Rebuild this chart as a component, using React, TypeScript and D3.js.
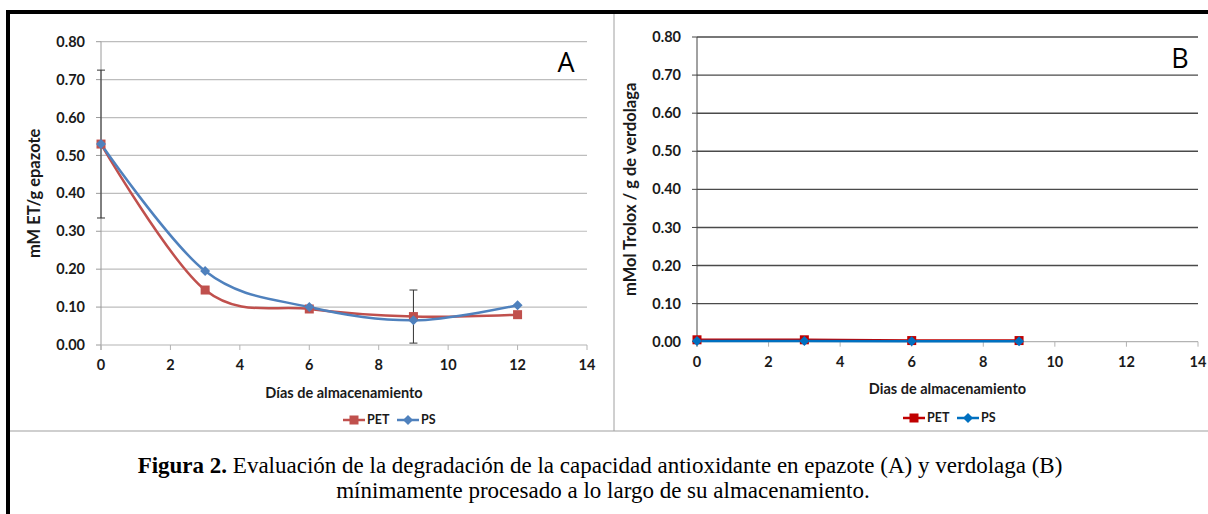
import React from "react";
import * as d3 from "d3";

const xTicks = [0, 2, 4, 6, 8, 10, 12, 14];
const yTicks = [0, 0.1, 0.2, 0.3, 0.4, 0.5, 0.6, 0.7, 0.8];

const daysA = [0, 3, 6, 9, 12];
const petA = [0.53, 0.145, 0.095, 0.075, 0.08];
const psA = [0.53, 0.195, 0.1, 0.065, 0.105];
const errDaysA = [0, 9];
const errLowA = [0.335, 0.005];
const errHighA = [0.725, 0.145];

const daysB = [0, 3, 6, 9];
const petB = [0.005, 0.005, 0.003, 0.003];
const psB = [0.002, 0.002, 0.001, 0.001];

const seriesNames = ["PET", "PS"];
const captionBold = "Figura 2.";
const captionLine1 = " Evaluación de la degradación de la capacidad antioxidante en epazote (A) y verdolaga (B)";
const captionLine2 = "mínimamente procesado a lo largo de su almacenamiento.";

const FONT = "Lato, 'Open Sans', sans-serif";

type PanelProps = {
  x0: number; x1: number; y0: number; y1: number;
  days: number[]; pet: number[]; ps: number[];
  smooth: boolean;
  petColor: string; psColor: string;
  gridColor: string; gridWidth: number; yAxisColor: string;
  yTitle: string; xTitle: string; letter: string;
  letterX: number; letterY: number;
  yTitleX: number; xTitleY: number; legendY: number; legendX: number;
  errDays?: number[]; errLow?: number[]; errHigh?: number[];
};

function Square({ x, y, c }: { x: number; y: number; c: string }) {
  return <rect x={x - 4.5} y={y - 4.5} width={9} height={9} fill={c} />;
}
function Diamond({ x, y, c }: { x: number; y: number; c: string }) {
  return <path d={`M${x},${y - 5}L${x + 5},${y}L${x},${y + 5}L${x - 5},${y}Z`} fill={c} />;
}

function Panel(p: PanelProps) {
  const xs = d3.scaleLinear().domain([0, 14]).range([p.x0, p.x1]);
  const ys = d3.scaleLinear().domain([0, 0.8]).range([p.y0, p.y1]);
  const curve = p.smooth ? d3.curveCardinal.tension(0) : d3.curveLinear;
  const line = d3
    .line<[number, number]>()
    .x((d) => xs(d[0]))
    .y((d) => ys(d[1]))
    .curve(curve);
  const petPts = p.days.map((d, i) => [d, p.pet[i]] as [number, number]);
  const psPts = p.days.map((d, i) => [d, p.ps[i]] as [number, number]);
  const midY = (p.y0 + p.y1) / 2;
  const lx = p.legendX;
  return (
    <g fontFamily={FONT}>
      {yTicks.map((t) =>
        t === 0 ? null : (
          <line key={"g" + t} x1={p.x0} x2={p.x1} y1={ys(t)} y2={ys(t)} stroke={p.gridColor} strokeWidth={p.gridWidth} />
        )
      )}
      {yTicks.map((t) => (
        <line key={"yt" + t} x1={p.x0 - 5} x2={p.x0} y1={ys(t)} y2={ys(t)} stroke={p.yAxisColor} strokeWidth={1} />
      ))}
      <line x1={p.x0} x2={p.x0} y1={ys(0.8)} y2={ys(0) + 5} stroke={p.yAxisColor} strokeWidth={1} />
      <line x1={p.x0} x2={p.x1} y1={ys(0)} y2={ys(0)} stroke="#b3b3b3" strokeWidth={1.2} />
      {xTicks.map((t) => (
        <line key={"xt" + t} x1={xs(t)} x2={xs(t)} y1={ys(0)} y2={ys(0) + 5} stroke="#b3b3b3" strokeWidth={1} />
      ))}
      {yTicks.map((t) => (
        <text key={"yl" + t} x={p.x0 - 16} y={ys(t)} dy="0.35em" textAnchor="end" fontSize={14.5} fontWeight={700} fill="#1a1a1a">
          {t.toFixed(2)}
        </text>
      ))}
      {xTicks.map((t) => (
        <text key={"xl" + t} x={xs(t)} y={ys(0) + 25} textAnchor="middle" fontSize={14.5} fontWeight={700} fill="#1a1a1a">
          {t}
        </text>
      ))}
      <text
        transform={`translate(${p.yTitleX},${midY}) rotate(-90)`}
        textAnchor="middle"
        fontSize={16.5}
        fontWeight={700}
        fill="#1a1a1a"
      >
        {p.yTitle}
      </text>
      <text x={(p.x0 + p.x1) / 2} y={p.xTitleY} textAnchor="middle" fontSize={14.5} fontWeight={700} fill="#1a1a1a">
        {p.xTitle}
      </text>
      <text x={p.letterX} y={p.letterY} textAnchor="middle" fontSize={27} fill="#000" fontFamily="'Open Sans', sans-serif">
        {p.letter}
      </text>
      {p.errDays &&
        p.errDays.map((d, i) => (
          <g key={"e" + i} stroke="#333" strokeWidth={1}>
            <line x1={xs(d)} x2={xs(d)} y1={ys(p.errLow![i])} y2={ys(p.errHigh![i])} />
            <line x1={xs(d) - 4} x2={xs(d) + 4} y1={ys(p.errLow![i])} y2={ys(p.errLow![i])} />
            <line x1={xs(d) - 4} x2={xs(d) + 4} y1={ys(p.errHigh![i])} y2={ys(p.errHigh![i])} />
          </g>
        ))}
      <path d={line(petPts) || ""} fill="none" stroke={p.petColor} strokeWidth={2.5} />
      <path d={line(psPts) || ""} fill="none" stroke={p.psColor} strokeWidth={2.5} />
      {petPts.map((d, i) => (
        <Square key={"s" + i} x={xs(d[0])} y={ys(d[1])} c={p.petColor} />
      ))}
      {psPts.map((d, i) => (
        <Diamond key={"d" + i} x={xs(d[0])} y={ys(d[1])} c={p.psColor} />
      ))}
      <g fontSize={12.5} fontWeight={700} fill="#1a1a1a">
        <line x1={lx} x2={lx + 22} y1={p.legendY} y2={p.legendY} stroke={p.petColor} strokeWidth={2.5} />
        <Square x={lx + 11} y={p.legendY} c={p.petColor} />
        <text x={lx + 24} y={p.legendY} dy="0.35em">{seriesNames[0]}</text>
        <line x1={lx + 54} x2={lx + 76} y1={p.legendY} y2={p.legendY} stroke={p.psColor} strokeWidth={2.5} />
        <Diamond x={lx + 65} y={p.legendY} c={p.psColor} />
        <text x={lx + 78} y={p.legendY} dy="0.35em">{seriesNames[1]}</text>
      </g>
    </g>
  );
}

export default function App() {
  return (
    <svg width={1208} height={514} style={{ position: "absolute", left: 0, top: 0, background: "#fff" }}>
      <rect x={0} y={0} width={1208} height={514} fill="#fff" />
      <Panel
        x0={101} x1={587} y0={345} y1={41.7}
        days={daysA} pet={petA} ps={psA} smooth={true}
        petColor="#c0504d" psColor="#4f81bd"
        gridColor="#bdbdbd" gridWidth={1.2} yAxisColor="#9a9a9a"
        yTitle="mM ET/g epazote" xTitle="Días de almacenamiento" letter="A"
        letterX={566} letterY={72} yTitleX={40} xTitleY={398} legendY={420} legendX={343}
        errDays={errDaysA} errLow={errLowA} errHigh={errHighA}
      />
      <Panel
        x0={697} x1={1198} y0={341.7} y1={37}
        days={daysB} pet={petB} ps={psB} smooth={false}
        petColor="#c00000" psColor="#0070c0"
        gridColor="#4a4a4a" gridWidth={1.4} yAxisColor="#444"
        yTitle="mMol Trolox / g de verdolaga" xTitle="Dias de almacenamiento" letter="B"
        letterX={1180} letterY={68} yTitleX={636} xTitleY={394} legendY={418} legendX={903}
      />
      <line x1={614} x2={614} y1={14} y2={431} stroke="#a0a0a0" strokeWidth={1} />
      <line x1={10} x2={1208} y1={431} y2={431} stroke="#a0a0a0" strokeWidth={1.2} />
      <rect x={6} y={10} width={1202} height={4} fill="#000" />
      <rect x={6} y={10} width={4} height={504} fill="#000" />
      <g fontFamily="'Liberation Serif', 'Times New Roman', serif" fontSize={23} fill="#000" textAnchor="middle">
        <text x={600} y={473}>
          <tspan fontWeight={700}>{captionBold}</tspan>
          <tspan>{captionLine1}</tspan>
        </text>
        <text x={603} y={498}>{captionLine2}</text>
      </g>
    </svg>
  );
}
